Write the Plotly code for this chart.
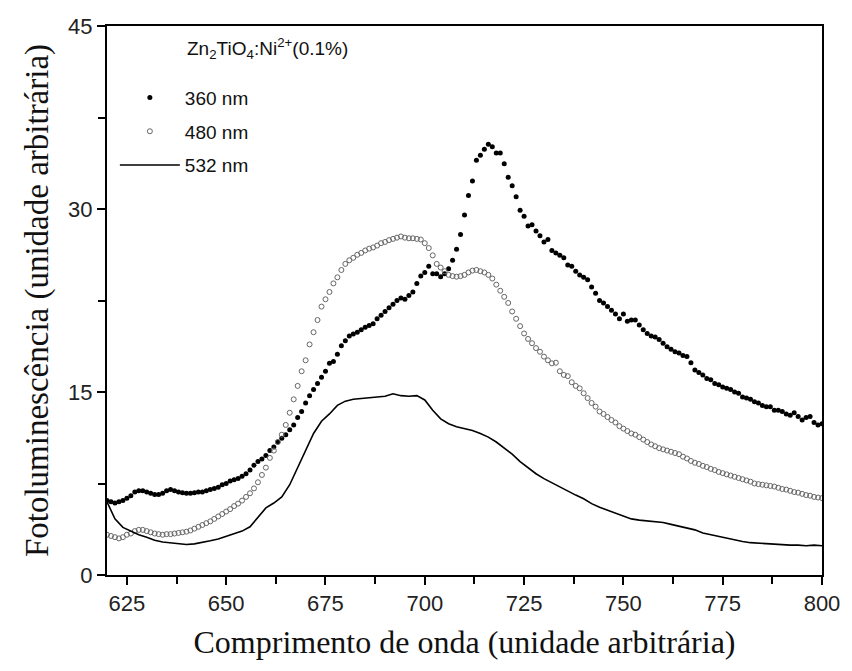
import plotly.graph_objects as go

wl_dots = list(range(620, 801))
pl_360 = [6.1, 6.0, 5.9, 6.0, 6.1, 6.3, 6.5, 6.8, 6.9, 6.9,
          6.8, 6.7, 6.6, 6.6, 6.7, 6.9, 7.0, 6.9, 6.8, 6.75,
          6.7, 6.7, 6.75, 6.8, 6.8, 6.9, 7.0, 7.1, 7.2, 7.4,
          7.5, 7.7, 7.8, 7.9, 8.1, 8.3, 8.6, 9.0, 9.3, 9.5,
          9.8, 10.2, 10.5, 10.9, 11.2, 11.5, 11.9, 12.3, 12.9, 13.4,
          14.1, 14.7, 15.2, 15.7, 16.2, 16.7, 17.35, 17.5, 18.1, 18.8,
          19.2, 19.6, 19.75, 19.9, 20.1, 20.3, 20.45, 20.6, 21.0, 21.3,
          21.6, 21.9, 22.2, 22.5, 22.7, 22.6, 22.9, 23.2, 23.9, 24.5,
          24.8, 25.3, 24.7, 24.7, 24.45, 24.7, 25.1, 25.8, 26.7, 27.9,
          29.5, 31.1, 32.3, 34.0, 34.4, 34.9, 35.3, 35.1, 34.6, 34.6,
          33.7, 32.6, 31.9, 31.0, 29.9, 29.4, 28.6, 28.7, 28.2, 27.8,
          27.3, 27.5, 26.6, 26.4, 26.2, 26.0, 25.4, 25.3, 24.9, 24.6,
          24.4, 24.2, 23.6, 23.1, 22.5, 22.3, 22.0, 21.7, 21.4, 21.0,
          21.4, 20.8, 20.9, 20.9, 20.5, 20.1, 19.8, 19.6, 19.5, 19.3,
          19.0, 18.7, 18.5, 18.3, 18.2, 18.0, 17.9, 17.4, 16.8, 16.6,
          16.4, 16.1, 16.0, 15.7, 15.6, 15.4, 15.3, 15.2, 15.0, 14.9,
          14.6, 14.5, 14.4, 14.2, 14.1, 13.9, 13.8, 13.8, 13.5, 13.5,
          13.4, 13.2, 13.1, 13.3, 13.0, 12.7, 12.9, 13.0, 12.5, 12.3,
          12.4]
pl_480 = [3.3, 3.2, 3.1, 3.0, 3.1, 3.3, 3.4, 3.6, 3.7, 3.7,
          3.6, 3.5, 3.4, 3.35, 3.3, 3.35, 3.35, 3.4, 3.45, 3.5,
          3.55, 3.65, 3.8, 3.95, 4.1, 4.25, 4.4, 4.6, 4.8, 5.0,
          5.2, 5.4, 5.65, 5.85, 6.1, 6.4, 6.7, 7.1, 7.6, 8.2,
          8.8, 9.6, 10.2, 10.9, 11.5, 12.3, 13.3, 14.4, 15.5, 16.7,
          17.6, 18.9, 19.9, 20.9, 22.0, 22.6, 23.2, 23.9, 24.4, 25.0,
          25.5, 25.8, 26.0, 26.25, 26.4, 26.6, 26.75, 26.85, 27.0, 27.2,
          27.3, 27.45, 27.55, 27.65, 27.75, 27.65, 27.6, 27.6, 27.55, 27.5,
          27.2, 26.8, 26.2, 25.5, 25.2, 24.9, 24.6, 24.5, 24.45, 24.5,
          24.6, 24.8, 24.95, 25.0, 24.9, 24.8, 24.6, 24.3, 23.8, 23.3,
          22.8, 22.3, 21.6, 21.0, 20.4, 19.8, 19.35, 19.0, 18.6, 18.3,
          17.9, 17.6, 17.35, 17.4, 16.7, 16.4, 16.3, 15.8, 15.5, 15.3,
          14.9, 14.5, 14.1, 13.8, 13.4, 13.2, 12.95, 12.7, 12.5, 12.2,
          12.0, 11.8, 11.6, 11.5, 11.3, 11.1, 10.9, 10.7, 10.55, 10.4,
          10.3, 10.2, 10.1, 10.0, 9.9, 9.7, 9.55, 9.35, 9.2, 9.1,
          8.95, 8.85, 8.7, 8.6, 8.45, 8.35, 8.25, 8.15, 8.05, 7.95,
          7.85, 7.75, 7.65, 7.5, 7.45, 7.4, 7.35, 7.3, 7.25, 7.15,
          7.05, 7.0, 6.9, 6.8, 6.75, 6.65, 6.55, 6.5, 6.4, 6.35,
          6.3]

wl_line = list(range(620, 801, 2))
pl_532 = [6.0, 4.6, 3.9, 3.6, 3.3, 3.1, 2.85, 2.7, 2.65, 2.6,
          2.5, 2.55, 2.65, 2.8, 2.95, 3.15, 3.4, 3.6, 3.95, 4.7,
          5.5, 5.9, 6.4, 7.4, 8.8, 10.3, 11.6, 12.6, 13.2, 13.9,
          14.25, 14.4, 14.45, 14.5, 14.55, 14.65, 14.85, 14.7, 14.65, 14.7,
          14.35, 13.5, 12.8, 12.4, 12.15, 12.0, 11.85, 11.6, 11.3, 10.9,
          10.4, 9.9, 9.3, 8.8, 8.3, 7.9, 7.55, 7.25, 6.9, 6.55,
          6.25, 5.85, 5.55, 5.3, 5.05, 4.8, 4.6, 4.5, 4.45, 4.4,
          4.3, 4.15, 4.0, 3.9, 3.7, 3.45, 3.3, 3.15, 3.0, 2.85,
          2.75, 2.65, 2.6, 2.6, 2.55, 2.5, 2.45, 2.45, 2.4, 2.45,
          2.4]

legend_title = "Zn<sub>2</sub>TiO<sub>4</sub>:Ni<sup>2+</sup>(0.1%)"
x_title = "Comprimento de onda (unidade arbitrária)"
y_title = "Fotoluminescência (unidade arbitrária)"

sans = "Arial, Liberation Sans, sans-serif"
serif = "Times New Roman, Liberation Serif, serif"

fig = go.Figure()
fig.add_trace(go.Scatter(x=wl_dots, y=pl_360, mode="markers", name="360 nm",
                         legendgroup="a",
                         marker=dict(symbol="circle", size=5, color="black")))
fig.add_trace(go.Scatter(x=wl_dots, y=pl_480, mode="markers", name="480 nm",
                         legendgroup="b",
                         marker=dict(symbol="circle-open", size=5, color="#666666",
                                     line=dict(width=1, color="#666666"))))
fig.add_trace(go.Scatter(x=wl_line, y=pl_532, mode="lines", name="532 nm",
                         legendgroup="c",
                         line=dict(color="black", width=1.6)))

axis_common = dict(showline=True, linecolor="black", linewidth=2, mirror=True,
                   ticks="outside", ticklen=8, tickwidth=2, tickcolor="black",
                   showgrid=False, zeroline=False,
                   tickfont=dict(family=sans, size=22, color="#222222"))

fig.update_xaxes(range=[620, 800], tick0=625, dtick=25,
                 minor=dict(ticks="outside", ticklen=7, tickwidth=2, tickcolor="black", dtick=12.5, tick0=625),
                 title=dict(text=x_title, font=dict(family=serif, size=32, color="#111111"), standoff=15),
                 **axis_common)
fig.update_yaxes(range=[0, 45], tick0=0, dtick=15,
                 minor=dict(ticks="outside", ticklen=7, tickwidth=2, tickcolor="black", dtick=7.5),
                 title=dict(text=y_title, font=dict(family=serif, size=33, color="#111111"), standoff=10),
                 **axis_common)

fig.add_annotation(text=legend_title, xref="paper", yref="paper", x=0.109, y=0.988,
                   xanchor="left", yanchor="top", showarrow=False,
                   font=dict(family=sans, size=19, color="#111111"))

fig.update_layout(
    width=852, height=671,
    margin=dict(l=107, r=26, t=26, b=96),
    paper_bgcolor="white", plot_bgcolor="white",
    showlegend=True,
    legend=dict(x=0.011, y=0.904, xanchor="left", yanchor="top",
                bgcolor="rgba(0,0,0,0)", itemwidth=60, tracegroupgap=6,
                traceorder="grouped",
                font=dict(family=sans, size=19, color="#111111")),
)

fig.write_html("out.html")
